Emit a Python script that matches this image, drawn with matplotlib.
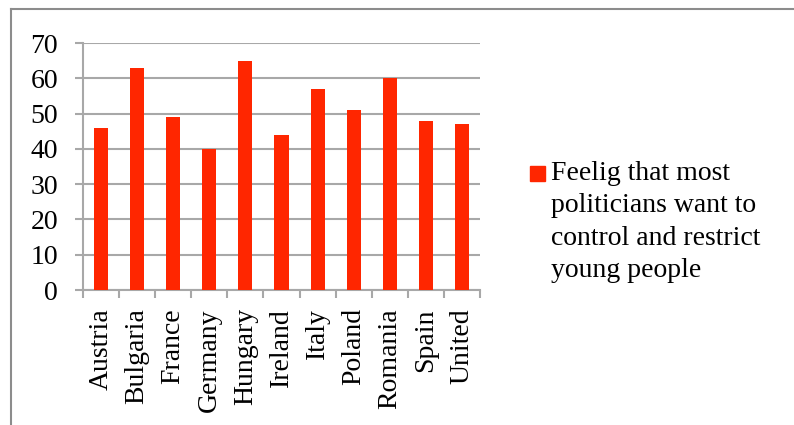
import matplotlib
matplotlib.use("Agg")
import matplotlib.pyplot as plt
from matplotlib.lines import Line2D
from matplotlib.patches import Rectangle
import numpy as np

countries = ["Austria", "Bulgaria", "France", "Germany", "Hungary", "Ireland",
             "Italy", "Poland", "Romania", "Spain", "United"]
values = [46, 63, 49, 40, 65, 44, 57, 51, 60, 48, 47]
series_label = "Feelig that most\npoliticians want to\ncontrol and restrict\nyoung people"
y_ticks = [0, 10, 20, 30, 40, 50, 60, 70]

plt.rcParams["font.family"] = ["Liberation Serif", "DejaVu Serif"]

bar_color = "#ff2600"
grid_color = "#a8a8a8"
font_size = 20

fig = plt.figure(figsize=(7.94, 4.25), dpi=100)
ax = fig.add_axes([0.1045, 0.3176, 0.5, 0.5812])

x = np.arange(len(countries))
ax.bar(x, values, width=0.39, color=bar_color, zorder=3)

ax.set_xlim(-0.5, len(countries) - 0.5)
ax.set_ylim(0, 70)
ax.set_yticks(y_ticks)
ax.tick_params(axis="y", labelsize=font_size, length=6, width=1.5, color=grid_color, pad=12)
ax.yaxis.grid(True, color=grid_color, linewidth=1.5, zorder=0)

ax.set_xticks(x)
ax.set_xticklabels(countries, rotation=90, fontsize=font_size, va="top")
ax.tick_params(axis="x", which="major", length=0, pad=13)
ax.set_xticks(np.arange(len(countries) + 1) - 0.5, minor=True)
ax.tick_params(axis="x", which="minor", length=6, width=1.5, color=grid_color)

for side in ("top", "right"):
    ax.spines[side].set_visible(False)
for side in ("left", "bottom"):
    ax.spines[side].set_color(grid_color)
    ax.spines[side].set_linewidth(1.5)

# legend: colour swatch and wrapped label
fig.patches.append(Rectangle((0.6675, 0.5741), 0.0189, 0.0353,
                             transform=fig.transFigure, color=bar_color))
fig.text(0.694, 0.622, series_label, fontsize=font_size, va="top", ha="left",
         linespacing=1.4)

# chart frame
fig.lines.append(Line2D([0.0135, 0.0135], [0, 0.98], transform=fig.transFigure,
                        color="#8c8c8c", linewidth=1.5))
fig.lines.append(Line2D([0.0135, 1.0], [0.98, 0.98], transform=fig.transFigure,
                        color="#8c8c8c", linewidth=1.5))

fig.savefig("out.png", dpi=100)
